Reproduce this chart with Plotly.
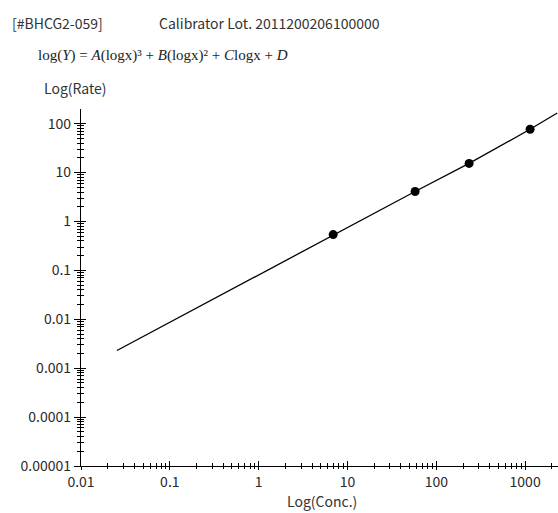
import plotly.graph_objects as go

# Calibrator points (concentration, rate)
conc_pts = [6.9, 57.7, 234, 1137]
rate_pts = [0.54, 4.1, 15.4, 76.8]

# Fitted curve
curve_conc = [0.0254, 0.1, 1, 6.9, 57.7, 234, 1137, 2300]
curve_rate = [0.0023, 0.0087, 0.081, 0.54, 4.1, 15.4, 76.8, 165]

y_tickvals = [1e-5, 1e-4, 1e-3, 1e-2, 1e-1, 1, 10, 100]
y_ticktext = ["0.00001", "0.0001", "0.001", "0.01", "0.1", "1", "10", "100"]
x_tickvals = [0.01, 0.1, 1, 10, 100, 1000]
x_ticktext = ["0.01", "0.1", "1", "10", "100", "1000"]

minor_y = [m * 10.0 ** e for e in range(-5, 3) for m in range(2, 10)]
minor_x = [m * 10.0 ** e for e in range(-2, 4) for m in range(2, 10)]

W, H = 558, 513
L, R, T, B = 81, 0, 109, H - 466
pw, ph = W - L - R, H - T - B

def px(xp):
    return (xp - L) / pw

def py(yp):
    return (H - B - yp) / ph

font_jp = "Noto Sans CJK JP, Liberation Sans, sans-serif"
tc = "#2a2a2a"

fig = go.Figure()
fig.add_trace(go.Scatter(x=curve_conc, y=curve_rate, mode="lines",
                         line=dict(color="black", width=1.3), hoverinfo="skip"))
fig.add_trace(go.Scatter(x=conc_pts, y=rate_pts, mode="markers",
                         marker=dict(color="black", size=9)))
fig.add_trace(go.Scatter(x=[], y=[], xaxis="x2", yaxis="y2", showlegend=False))

xr = [-2, 3.37]
yr = [-5, 2.3]

common = dict(type="log", showgrid=False, zeroline=False, showline=True,
              linecolor="black", linewidth=1.2, tickcolor="black", tickwidth=1)

fig.update_layout(
    width=W, height=H,
    margin=dict(l=L, r=R, t=T, b=B, pad=0),
    paper_bgcolor="white", plot_bgcolor="white",
    showlegend=False,
    xaxis=dict(**common, range=xr, tickmode="array", tickvals=x_tickvals,
               ticktext=x_ticktext, ticks="outside", ticklen=3,
               tickfont=dict(family=font_jp, size=14, color=tc),
               minor=dict(tickmode="array", tickvals=minor_x, ticks="outside",
                          ticklen=2, tickcolor="black", tickwidth=1)),
    yaxis=dict(**common, range=yr, tickmode="array", tickvals=y_tickvals,
               ticktext=y_ticktext, ticks="outside", ticklen=6,
               tickfont=dict(family=font_jp, size=14, color=tc),
               minor=dict(tickmode="array", tickvals=minor_y, ticks="outside",
                          ticklen=3, tickcolor="black", tickwidth=1)),
    xaxis2=dict(**common, range=xr, overlaying="x", anchor="y2", side="bottom",
                tickmode="array", tickvals=x_tickvals, ticks="inside", ticklen=5,
                showticklabels=False,
                minor=dict(tickmode="array", tickvals=minor_x, ticks="inside",
                           ticklen=3, tickcolor="black", tickwidth=1)),
    yaxis2=dict(**common, range=yr, overlaying="y", anchor="x2", side="left",
                tickmode="array", tickvals=y_tickvals, ticks="inside", ticklen=5,
                showticklabels=False,
                minor=dict(tickmode="array", tickvals=minor_y, ticks="inside",
                           ticklen=3, tickcolor="black", tickwidth=1)),
)

ann = [
    dict(text="[#BHCG2-059]", x=px(10), y=py(23), xanchor="left",
         font=dict(family=font_jp, size=14, color="#333")),
    dict(text="Calibrator Lot. 2011200206100000", x=px(157), y=py(23), xanchor="left",
         font=dict(family=font_jp, size=14, color="#333")),
    dict(text="log(<i>Y</i>) = <i>A</i>(logx)³ + <i>B</i>(logx)² + <i>C</i>logx + <i>D</i>",
         x=px(36), y=py(55), xanchor="left",
         font=dict(family="Liberation Serif, serif", size=15, color="#222")),
    dict(text="Log(Rate)", x=px(42), y=py(88), xanchor="left",
         font=dict(family=font_jp, size=14, color="#333")),
    dict(text="Log(Conc.)", x=px(322), y=py(501), xanchor="center",
         font=dict(family=font_jp, size=14, color="#333")),
]
for a in ann:
    fig.add_annotation(xref="paper", yref="paper", yanchor="middle",
                       showarrow=False, **a)

fig.write_html(
    "out.html",
    config={"displayModeBar": False},
    post_script="document.body.style.margin='0';document.body.style.overflow='hidden';",
)
